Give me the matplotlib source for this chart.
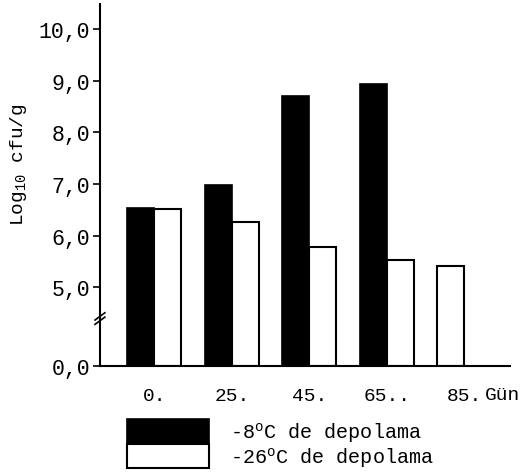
import numpy as np
import matplotlib
matplotlib.use('Agg')
from matplotlib import pyplot as plt

plt.rc('font', family='Liberation Mono', size=14)
plt.rc('mathtext', default='regular')

# data
days = ['0.', '25.', '45.', '65..', '85.']
cold_8 = [6.53, 6.98, 8.71, 8.94, np.nan]     # -8 C storage (black)
cold_26 = [6.52, 6.27, 5.78, 5.52, 5.41]      # -26 C storage (white)
y_ticks = [5.0, 6.0, 7.0, 8.0, 9.0, 10.0]
y_tick_labels = ['5,0', '6,0', '7,0', '8,0', '9,0', '10,0']

# broken axis: the "0,0" baseline sits below 5,0
base = 3.47
w = 0.35
x = np.arange(len(days))

fig = plt.figure(figsize=(5.26, 4.77), dpi=100)
ax = fig.add_axes([0.190, 0.2306, 0.780, 0.759])

h8 = np.array(cold_8) - base
h26 = np.array(cold_26) - base
# white bar sits in the left slot when there's no black bar
x26 = np.where(np.isnan(cold_8), x - w / 2, x + w / 2)

b1 = ax.bar(x - w / 2, h8, w, bottom=base, color='black', edgecolor='black',
            linewidth=1.2, label='-8$^{o}$C de depolama')
b2 = ax.bar(x26, h26, w, bottom=base, color='white', edgecolor='black',
            linewidth=1.5, label='-26$^{o}$C de depolama')

ax.set_xlim(-0.70, 4.59)
ax.set_ylim(base, 10.49)
ax.set_yticks([base] + y_ticks)
ax.set_yticklabels(['0,0'] + y_tick_labels, fontsize=15.5)
ax.set_xticks(x)
ax.set_xticklabels(days)
ax.tick_params(axis='x', length=0, pad=15)
ax.tick_params(axis='y', length=5, width=1.2, pad=2)

for side in ['top', 'right']:
    ax.spines[side].set_visible(False)
ax.spines['left'].set_linewidth(1.5)
ax.spines['bottom'].set_linewidth(1.5)

ax.set_ylabel('Log$_{10}$ cfu/g')
ax.yaxis.set_label_coords(-0.172, 0.56)
ax.set_xlabel('Gün')
ax.xaxis.set_label_coords(1.025, -0.054)
ax.xaxis.label.set_verticalalignment('top')
ax.xaxis.label.set_horizontalalignment('right')

# axis break marks
for dy in (0.0, 0.012):
    ax.plot([-0.012, 0.012], [0.115 + dy, 0.135 + dy], transform=ax.transAxes,
            color='black', lw=1.2, clip_on=False)

fig.legend(handles=[b1, b2], loc='upper left', bbox_to_anchor=(0.222, 0.140),
           frameon=False, borderpad=0, labelspacing=0, handlelength=4.1,
           handleheight=1.45, handletextpad=1.0, fontsize=14.5)

fig.savefig('out.png', dpi=100)
